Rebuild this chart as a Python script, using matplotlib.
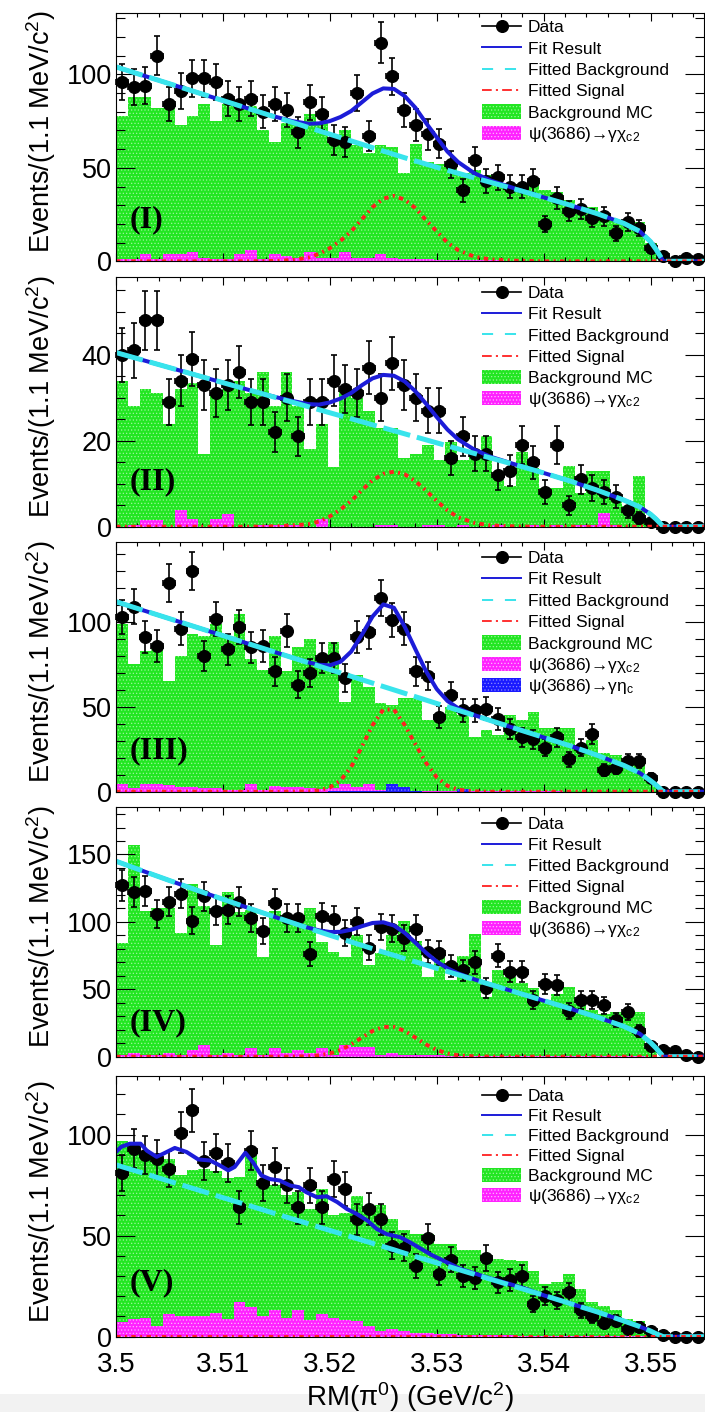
import numpy as np
import matplotlib
matplotlib.use("Agg")
import matplotlib.pyplot as plt
from matplotlib.patches import Rectangle
from matplotlib.lines import Line2D
from matplotlib.ticker import MultipleLocator, FuncFormatter

# ------------------------------------------------------------------ data
X_MIN, X_MAX, N_BINS = 3.500, 3.555, 50          # 1.1 MeV bins

# data counts per bin (panels I..V)
DATA1 = [96, 93, 94, 110, 84, 91, 98, 98, 96, 87, 84, 87, 80, 84, 81, 69, 85, 79, 65, 64,
         90, 67, 117, 99, 81, 73, 68, 63, 52, 38, 54, 43, 45, 40, 40, 43, 20, 34, 27, 28,
         23, 24, 15, 21, 18, 7, 3, 0, 2, 1]
DATA2 = [40, 41, 48, 48, 29, 34, 39, 33, 31, 33, 36, 29, 29, 22, 30, 21, 29, 29, 34, 32,
         31, 37, 30, 38, 33, 30, 27, 27, 16, 21, 17, 17, 12, 13, 19, 15, 8, 19, 5, 11,
         9, 8, 7, 4, 2, 1, 0, 0, 0, 0]
DATA3 = [103, 109, 91, 86, 123, 96, 130, 80, 102, 84, 97, 85, 86, 71, 95, 63, 70, 79, 79, 67,
         91, 94, 114, 101, 96, 71, 68, 44, 57, 48, 48, 49, 43, 37, 32, 31, 26, 32, 19, 26,
         34, 13, 14, 18, 18, 8, 0, 0, 0, 0]
DATA4 = [127, 122, 123, 106, 115, 121, 101, 119, 108, 109, 115, 103, 93, 114, 103, 103, 76, 104, 102, 92,
         100, 81, 96, 95, 88, 95, 78, 77, 67, 64, 70, 51, 75, 63, 63, 42, 54, 53, 34, 42,
         42, 38, 27, 33, 19, 8, 5, 4, 1, 0]
DATA5 = [81, 93, 90, 88, 83, 101, 112, 87, 91, 86, 64, 92, 76, 84, 75, 64, 75, 64, 78, 73,
         58, 63, 58, 45, 44, 35, 49, 31, 38, 30, 29, 39, 27, 28, 30, 16, 20, 18, 22, 13,
         10, 7, 8, 4, 5, 3, 1, 0, 0, 0]

# Background MC histograms
BKGMC1 = [78, 88, 88, 82, 82, 73, 78, 84, 75, 84, 84, 83, 70, 64, 74, 74, 79, 74, 64, 70,
          62, 58, 62, 61, 47, 63, 53, 52, 51, 47, 49, 46, 42, 41, 40, 41, 38, 37, 33, 29,
          29, 24, 22, 22, 21, 10, 0, 0, 0, 0]
BKGMC2 = [34, 28, 32, 31, 24, 32, 33.5, 17, 31, 32, 34, 31, 36, 28, 36, 28, 18, 24, 14, 31.5,
          30, 27, 23, 23, 16, 17, 19, 15.6, 19.8, 15.6, 17.5, 21, 11.3, 9.4, 17.3, 13.6, 9, 9, 14.2, 7.8,
          12.9, 12.9, 7, 4.7, 11.9, 2, 0, 0, 0, 0]
BKGMC3 = [99, 75, 83, 84, 65, 80, 93, 92, 99, 91, 105, 78, 72, 92, 71, 85, 90, 79, 88, 53,
          69, 62, 52, 51, 55, 55, 42, 42, 50, 45, 32.5, 36.5, 33.5, 45, 42, 47, 37.5, 37.5, 37.5, 25.7,
          30.6, 22.7, 21.8, 16, 16, 9, 0, 0, 0, 0]
BKGMC4 = [84.5, 157, 108, 110, 110, 92, 128, 112, 83, 122, 107, 109, 74, 108, 103, 103, 110, 85, 77.5, 73.6,
          90, 68, 77, 90, 101, 86, 59, 76, 56.6, 75, 91, 44, 64, 59, 54.7, 50.7, 42, 46.3, 51.7, 42,
          34.6, 32, 33.3, 34.6, 33.3, 10, 0, 0, 0, 0]
BKGMC5 = [97, 95, 92, 90, 88, 80, 82.6, 83, 82, 78.5, 79, 91, 77, 75, 70, 71.5, 63, 73, 60, 61,
          69.5, 62, 65, 58, 53, 51, 51, 46, 46, 43, 43, 40, 38.4, 38, 37.6, 32.6, 26, 27, 31, 23.5,
          17, 15, 13, 8.6, 7.8, 4, 2, 0, 0, 0]

# psi(3686) -> gamma chi_c2 MC
CHIC2_1 = [1, 1, 4, 1, 4, 4, 5, 2, 1, 1, 4, 6, 1, 4, 3, 2, 5, 2, 2, 5,
           2, 2, 4, 2, 1, 1, 1, 0.5, 0.5, 0.5, 0.5, 0.5, 0.5, 0.3, 0.3, 0.3, 0.3, 0.2, 0.2, 0.2,
           0.2, 0.2, 0.1, 0.1, 0.1, 0, 0, 0, 0, 0]
CHIC2_2 = [0, 0.5, 1.6, 1.6, 0, 3.9, 1.7, 0, 1.7, 2.9, 0, 0, 0.5, 0.5, 0.5, 0.5, 0, 1.7, 0, 0,
           0, 0, 0.5, 0.5, 0, 0, 0.5, 0.5, 0, 0.5, 0, 0, 0.5, 0, 0, 0.5, 0, 0.5, 0, 0.5,
           0.5, 3.2, 0.5, 0, 0, 0, 0, 0, 0, 0]
CHIC2_3 = [4.8, 2, 4.8, 4.8, 3.8, 2.8, 2.8, 2, 2, 1, 1, 4.8, 1, 3.4, 2.8, 2.8, 2.4, 1.4, 2.4, 4.8,
           2.8, 4.4, 1, 1, 1, 0.5, 0.5, 0.5, 0.5, 0.3, 0.3, 0.3, 0.3, 0.2, 0.2, 0.2, 0.2, 0.2, 0.1, 0.1,
           0.1, 0, 0, 0, 0, 0, 0, 0, 0, 0]
CHIC2_4 = [1, 2.4, 1, 1, 2.4, 1, 5.3, 9, 1, 2.4, 1, 6.5, 1, 6.5, 2.4, 4.8, 2.4, 6.5, 1, 9,
           7, 7, 1, 2.4, 1, 1, 1, 1, 0.5, 0.5, 0.5, 0.5, 0.5, 0.5, 0.5, 0.5, 0.3, 0.3, 0.3, 0.3,
           0.3, 0.2, 0.2, 0.2, 0.2, 0, 0, 0, 0, 0]
CHIC2_5 = [7.3, 8.6, 9.4, 5.3, 11, 10.3, 10, 10.3, 11.6, 9, 17.2, 14.7, 10.3, 13.2, 9.4, 13.2, 8.3, 11, 9.4, 8.3,
           7.8, 5.3, 2.8, 3.6, 2.8, 2, 2, 1.5, 1.5, 1, 1, 1, 0.8, 0.8, 0.5, 0.5, 0.5, 0.3, 0.3, 0.3,
           0.3, 0.2, 0.2, 0.2, 0.2, 0, 0, 0, 0, 0]
# psi(3686) -> gamma eta_c MC (panel III only)
ETAC_3 = [0, 0, 0, 0, 0, 0, 0, 0, 0, 0, 0, 0, 0, 0, 0, 0, 0, 0, 0.5, 0.5,
          0.5, 0.5, 0.5, 4.5, 3, 0.5, 0, 0, 0, 1.5, 0, 0, 0, 0, 0, 0, 0, 0, 0, 0,
          0, 0, 0, 0, 0, 0, 0, 0, 0, 0]

# fitted curves, sampled along RM(pi0)
CURVE_X = [3.500, 3.5025, 3.505, 3.5075, 3.510, 3.5125, 3.515, 3.5165, 3.518, 3.519,
           3.520, 3.521, 3.522, 3.523, 3.524, 3.525, 3.526, 3.527, 3.528, 3.529,
           3.530, 3.531, 3.532, 3.5335, 3.535, 3.5375, 3.540, 3.5425, 3.545, 3.5475,
           3.549, 3.550, 3.5505, 3.5512, 3.553, 3.555]

BG1 = [104, 99.5, 95, 90.5, 86, 81.5, 77, 74.3, 71.6, 69.8, 68, 66.2, 64.4, 62.6, 60.8, 59, 57.2, 55.4,
       53.7, 52, 50.3, 48.7, 47.1, 44.7, 42.3, 38.3, 34.2, 30, 25.5, 20.3, 16, 10.5, 6.5, 0, 0, 0]
SIG1 = [0, 0, 0, 0, 0, 0, 0.2, 0.7, 2, 4, 7, 11, 16, 22.5, 29, 33.5, 35, 33, 28.5, 22, 16, 10, 6, 2.5,
        1, 0.3, 0, 0, 0, 0, 0, 0, 0, 0, 0, 0]
FIT1 = [104, 99.5, 95, 90.5, 86, 81.5, 77.2, 75, 73.6, 73.8, 75, 77.2, 80.4, 85.1, 89.8, 92.5, 92.2, 88.4,
        82.2, 74, 66.3, 58.7, 53.1, 47.2, 43.3, 38.6, 34.2, 30, 25.5, 20.3, 16, 10.5, 6.5, 0, 0, 0]

BG2 = [40.5, 38.75, 37, 35.25, 33.5, 31.75, 30, 28.95, 27.9, 27.2, 26.5, 25.8, 25.1, 24.4, 23.7, 23, 22.3,
       21.6, 20.9, 20.2, 19.5, 18.8, 18.1, 17.05, 16, 14.3, 12.5, 10.6, 8.5, 6.2, 4.6, 2.9, 1.8, 0, 0, 0]
SIG2 = [0, 0, 0, 0, 0, 0, 0.1, 0.3, 0.6, 1.2, 2.4, 4, 6, 8.5, 10.8, 12.3, 12.8, 12.2, 10.6, 8.4, 6, 3.8,
        2.2, 0.9, 0.3, 0.05, 0, 0, 0, 0, 0, 0, 0, 0, 0, 0]
FIT2 = [40.5, 38.75, 37, 35.25, 33.5, 31.75, 30.1, 29.25, 28.5, 28.4, 28.9, 29.8, 31.1, 32.9, 34.5, 35.3,
        35.1, 33.8, 31.5, 28.6, 25.5, 22.6, 20.3, 17.95, 16.3, 14.35, 12.5, 10.6, 8.5, 6.2, 4.6, 2.9, 1.8, 0, 0, 0]

BG3 = [112, 107, 102, 97, 92, 87, 82, 79, 76, 74, 72, 70, 68, 66, 64, 62, 60, 58, 56, 54, 52, 50, 48, 45,
       42, 37, 32, 27, 21.5, 15.5, 11, 6.5, 4, 0, 0, 0]
SIG3 = [0, 0, 0, 0, 0, 0, 0, 0.05, 0.2, 0.8, 2.5, 6.6, 14.6, 26.5, 39.3, 48.4, 48.4, 39.3, 28, 17, 8.5,
        3.5, 1.2, 0.2, 0, 0, 0, 0, 0, 0, 0, 0, 0, 0, 0, 0]
FIT3 = [112, 107, 102, 97, 92, 87, 82, 79.05, 76.2, 74.8, 74.5, 76.6, 82.6, 92.5, 103.3, 110.4, 108.4,
        97.3, 84, 71, 60.5, 53.5, 49.2, 45.2, 42, 37, 32, 27, 21.5, 15.5, 11, 6.5, 4, 0, 0, 0]

BG4 = [145, 137.8, 130.7, 123.7, 116.8, 110, 103.3, 99.3, 95.3, 92.7, 90.1, 87.6, 85.1, 82.6, 80.1, 77.6,
       75.2, 72.8, 70.4, 68, 65.6, 63.2, 60.8, 57.2, 53.6, 47.6, 41.6, 35.6, 29.4, 22.5, 17, 10.5, 6.5, 0, 0, 0]
SIG4 = [0, 0, 0, 0, 0, 0, 0, 0.05, 0.35, 1, 2.4, 5, 9.1, 14.2, 19.1, 22.1, 22.1, 19.1, 14.2, 9.1, 5, 2.4,
        1, 0.2, 0.05, 0, 0, 0, 0, 0, 0, 0, 0, 0, 0, 0]
FIT4 = [145, 137.8, 130.7, 123.7, 116.8, 110, 103.3, 99.35, 95.65, 93.7, 92.5, 92.6, 94.2, 96.8, 99.2,
        99.7, 97.3, 91.9, 84.6, 77.1, 70.6, 65.6, 61.8, 57.4, 53.65, 47.6, 41.6, 35.6, 29.4, 22.5, 17, 10.5,
        6.5, 0, 0, 0]

BG5 = [85, 81, 76.9, 72.9, 68.8, 64.8, 60.7, 58.3, 55.9, 54.2, 52.6, 51, 49.4, 47.8, 46.2, 44.6, 43, 41.3,
       39.7, 38.1, 36.5, 34.9, 33.3, 30.9, 28.5, 24.5, 20.5, 16.4, 12.3, 7.8, 5, 2.8, 1.5, 0, 0, 0]
SIG5 = [0, 0, 0, 0, 0, 0, 0, 0, 0, 0, 0, 0, 0, 0, 0, 0, 0, 0, 0, 0, 0, 0, 0, 0, 0, 0, 0, 0, 0, 0,
        0, 0, 0, 0, 0, 0]
FIT5_X = [3.5000, 3.5005, 3.5013, 3.5023, 3.5029, 3.5038, 3.5044, 3.5055, 3.5066, 3.5077, 3.5088,
          3.5097, 3.5105, 3.5111, 3.5121, 3.5128, 3.5136, 3.5144, 3.5153, 3.5163, 3.5171, 3.5178,
          3.5188, 3.5197, 3.5207, 3.5216, 3.5225, 3.5235, 3.5244, 3.5253, 3.5266, 3.5275, 3.5295,
          3.5322, 3.5343, 3.5384, 3.540, 3.5425, 3.545, 3.5475, 3.549, 3.550, 3.5505, 3.5512, 3.553, 3.555]
FIT5 = [91.4, 94, 95.5, 95.5, 92, 89, 90.5, 93.4, 91.4, 87.7, 87.2, 84.8, 82.3, 84, 91, 86.4, 79.8, 78,
        77.3, 74.8, 74, 71.5, 69, 69.5, 66.6, 63.2, 60.8, 57.5, 53.3, 50.8, 49.2, 46.7, 40.5, 33.6, 30,
        23.6, 20.5, 16.4, 12.3, 7.8, 5, 2.8, 1.5, 0, 0, 0]

PANEL_LABELS = ["(I)", "(II)", "(III)", "(IV)", "(V)"]
Y_MAX = [133, 58, 147, 185, 129]
Y_MAJOR = [50, 20, 50, 50, 50]
Y_MINOR = [10, 5, 10, 10, 10]
LEGEND_LABELS = ["Data", "Fit Result", "Fitted Background", "Fitted Signal", "Background MC",
                 "ψ(3686)→γχ$_{\\mathrm{c2}}$", "ψ(3686)→γη$_{\\mathrm{c}}$"]
X_TITLE = "RM(π$^{0}$) (GeV/c$^{2}$)"
Y_TITLE = "Events/(1.1 MeV/c$^{2}$)"

# ------------------------------------------------------------------ style
plt.rcParams['font.family'] = ['Liberation Sans', 'DejaVu Sans']
plt.rcParams['mathtext.fontset'] = 'custom'
plt.rcParams['mathtext.rm'] = 'Liberation Sans'
plt.rcParams['mathtext.it'] = 'Liberation Sans:italic'
plt.rcParams['mathtext.bf'] = 'Liberation Sans:bold'
plt.rcParams['lines.scale_dashes'] = False
plt.rcParams['hatch.linewidth'] = 0.5

C_GREEN, C_GREEN_H = '#22e622', '#9af59a'
C_MAG, C_MAG_H = '#ff22ff', '#ffb4ff'
C_ETA, C_ETA_H = '#1a1aff', '#8a8aff'
C_FIT = '#1c1cd8'
C_BG = '#38e4ec'
C_SIG = '#ff2020'
HATCH = '.....'

W, H = 705, 1412
fig = plt.figure(figsize=(W / 100, H / 100), dpi=100)
fig.patch.set_facecolor('white')
fig.add_artist(Rectangle((0, 0), 1, 18 / H, transform=fig.transFigure,
                         facecolor='#f2f2f2', edgecolor='none', zorder=0))

LEFT_PX, RIGHT_PX = 116, 704
PANEL_PX = [(12.7, 261.3), (277.3, 526.7), (542.3, 791.7), (807.3, 1056.7), (1076.0, 1336.7)]
LEG_TOP = [13.3, 14.4, 14.4, 15.4, 18.7]
LEG_STEP = [21.4, 21.3, 21.4, 21.1, 20.0]
LABEL_Y = [0.166, 0.181, 0.166, 0.136, 0.207]

edges = np.linspace(X_MIN, X_MAX, N_BINS + 1)
centers = 0.5 * (edges[:-1] + edges[1:])
half_w = 0.5 * (edges[1] - edges[0])

panels = [
    dict(data=DATA1, bkg=BKGMC1, chic2=CHIC2_1, eta=None, cx=CURVE_X, bg=BG1, sig=SIG1, fx=CURVE_X, fit=FIT1),
    dict(data=DATA2, bkg=BKGMC2, chic2=CHIC2_2, eta=None, cx=CURVE_X, bg=BG2, sig=SIG2, fx=CURVE_X, fit=FIT2),
    dict(data=DATA3, bkg=BKGMC3, chic2=CHIC2_3, eta=ETAC_3, cx=CURVE_X, bg=BG3, sig=SIG3, fx=CURVE_X, fit=FIT3),
    dict(data=DATA4, bkg=BKGMC4, chic2=CHIC2_4, eta=None, cx=CURVE_X, bg=BG4, sig=SIG4, fx=CURVE_X, fit=FIT4),
    dict(data=DATA5, bkg=BKGMC5, chic2=CHIC2_5, eta=None, cx=CURVE_X, bg=BG5, sig=SIG5, fx=FIT5_X, fit=FIT5),
]


def draw_legend(ax, h_px, top_off, step, with_eta):
    hx0 = (482 - LEFT_PX) / (RIGHT_PX - LEFT_PX)
    hx1 = (521 - LEFT_PX) / (RIGHT_PX - LEFT_PX)
    tx = (528 - LEFT_PX) / (RIGHT_PX - LEFT_PX)
    n = 7 if with_eta else 6
    for k in range(n):
        yc = 1 - (top_off + k * step) / h_px
        if k == 0:
            ax.add_line(Line2D([hx0, hx1], [yc, yc], transform=ax.transAxes, color='black', lw=1.2))
            ax.add_line(Line2D([(hx0 + hx1) / 2], [yc], transform=ax.transAxes, marker='o',
                               color='black', ms=8.4, lw=0))
        elif k == 1:
            ax.add_line(Line2D([hx0, hx1], [yc, yc], transform=ax.transAxes, color=C_FIT, lw=1.4))
        elif k == 2:
            ax.add_line(Line2D([hx0, hx1], [yc, yc], transform=ax.transAxes, color=C_BG, lw=1.4,
                               dashes=(8, 8.5)))
        elif k == 3:
            ax.add_line(Line2D([hx0, hx1], [yc, yc], transform=ax.transAxes, color=C_SIG, lw=1.3,
                               dashes=(7, 3, 1.5, 3)))
        else:
            fc, hc = [(C_GREEN, C_GREEN_H), (C_MAG, C_MAG_H), (C_ETA, C_ETA_H)][k - 4]
            bh = 14.4 / h_px
            ax.add_patch(Rectangle((hx0, yc - bh / 2), hx1 - hx0, bh, transform=ax.transAxes,
                                   facecolor=fc, edgecolor=hc, hatch=HATCH, lw=0, zorder=3))
        ax.text(tx, yc - 6.2 / h_px, LEGEND_LABELS[k], transform=ax.transAxes, fontsize=12.5,
                ha='left', va='baseline', zorder=10)


for i, p in enumerate(panels):
    top, bot = PANEL_PX[i]
    h_px = bot - top
    ax = fig.add_axes([LEFT_PX / W, 1 - bot / H, (RIGHT_PX - LEFT_PX) / W, h_px / H])
    ax.set_xlim(X_MIN, X_MAX)
    ax.set_ylim(0, Y_MAX[i])

    # histograms
    ax.stairs(p['bkg'], edges, fill=True, facecolor=C_GREEN, edgecolor=C_GREEN_H,
              hatch=HATCH, lw=0, zorder=1)
    ax.stairs(p['chic2'], edges, fill=True, facecolor=C_MAG, edgecolor=C_MAG_H,
              hatch=HATCH, lw=0, zorder=2)
    if p['eta'] is not None:
        ax.stairs(p['eta'], edges, fill=True, facecolor=C_ETA, edgecolor=C_ETA_H,
                  hatch=HATCH, lw=0, zorder=2.5)

    # data
    d = np.asarray(p['data'], dtype=float)
    ax.errorbar(centers, d, yerr=np.sqrt(d), xerr=half_w, fmt='o', color='black', ms=8.4,
                elinewidth=1.2, capsize=2.5, capthick=1.2, zorder=5, clip_on=False)

    # curves
    ax.plot(p['fx'], p['fit'], color=C_FIT, lw=2.9, zorder=6)
    ax.plot(p['cx'], p['bg'], color=C_BG, lw=3.6, dashes=(20, 5), zorder=7)
    ax.plot(p['cx'], p['sig'], color=C_SIG, lw=2.8, dashes=(3.2, 3.2, 1.4, 3.2), zorder=8)

    # axes style
    for s in ax.spines.values():
        s.set_linewidth(0.8)
        s.set_zorder(9)
    ax.xaxis.set_major_locator(MultipleLocator(0.01))
    ax.xaxis.set_minor_locator(MultipleLocator(0.002))
    ax.yaxis.set_major_locator(MultipleLocator(Y_MAJOR[i]))
    ax.yaxis.set_minor_locator(MultipleLocator(Y_MINOR[i]))
    ax.tick_params(which='both', direction='in', top=True, right=True, width=0.8)
    ax.tick_params(axis='x', which='major', length=5.5)
    ax.tick_params(axis='x', which='minor', length=2.8)
    ax.tick_params(axis='y', which='major', length=13.5, labelsize=19.5, pad=3)
    ax.tick_params(axis='y', which='minor', length=6.8)
    if i < 4:
        ax.tick_params(axis='x', labelbottom=False)
    else:
        ax.tick_params(axis='x', labelsize=20, pad=11)
        ax.xaxis.set_major_formatter(FuncFormatter(lambda v, pos: f"{v:g}"))

    ax.text(0.024, LABEL_Y[i], PANEL_LABELS[i], transform=ax.transAxes, fontsize=23,
            family='Liberation Serif', weight='bold', ha='left', va='center', zorder=10)

    draw_legend(ax, h_px, LEG_TOP[i], LEG_STEP[i], p['eta'] is not None)

    yc_px = (top + bot) / 2 - 5
    fig.text(41 / W, 1 - yc_px / H, Y_TITLE, rotation=90, fontsize=19.5, ha='center', va='center')

fig.text(410 / W, 1 - 1397 / H, X_TITLE, fontsize=20, ha='center', va='center')

fig.savefig('out.png', dpi=100, facecolor='white')
